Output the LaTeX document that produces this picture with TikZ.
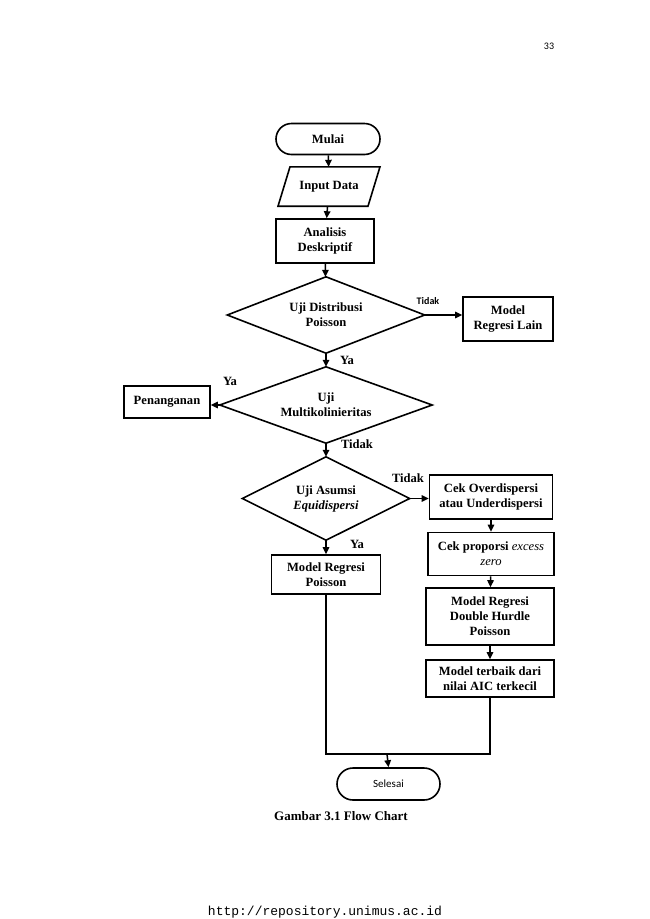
\documentclass[tikz,border=0pt]{standalone}
\usepackage{fontspec}
\setmainfont{Liberation Serif}
\newfontfamily\carl{Carlito}
\newfontfamily\lmono{Liberation Mono}
\usetikzlibrary{shapes.misc,arrows.meta}
\begin{document}
\begin{tikzpicture}[x=1pt,y=-1pt,
  every node/.style={font=\fontsize{12.6}{15}\selectfont\bfseries},
  box/.style={draw,line width=1.6pt,align=center,inner sep=0pt},
  term/.style={draw,line width=1.6pt,rounded rectangle,inner sep=0pt},
  dia/.style={inner sep=0pt,align=center},
  diaedge/.style={draw,line width=1.6pt},
  arr/.style={line width=1.5pt,-{Triangle[length=7pt,width=6.5pt]}},
  ln/.style={line width=1.5pt},
  lab/.style={inner sep=0pt}]
\useasboundingbox (0,0) rectangle (650,919);
\fill[white] (0,0) rectangle (650,919);
\node[lab,font=\carl\fontsize{10}{12}\selectfont] (pg) at (549,46) {33};
\node[term,minimum width=104,minimum height=31] (mulai) at (328,139) {Mulai};
\node[lab,minimum width=102,minimum height=39] (input) at (329,186.5) {Input Data};
\draw[diaedge] ([xshift=-39]input.north) -- ([xshift=51]input.north) -- ([xshift=39]input.south) -- ([xshift=-51]input.south) -- cycle;
\node[box,minimum width=98,minimum height=44] (ana) at (325,241) {Analisis\\Deskriptif};
\node[dia,minimum width=197,minimum height=76] (d1) at (326,315) {Uji Distribusi\\Poisson};
\draw[diaedge] (d1.north) -- (d1.east) -- (d1.south) -- (d1.west) -- cycle;
\node[box,minimum width=90,minimum height=44] (lain) at (508,319) {Model\\Regresi Lain};
\node[dia,minimum width=212,minimum height=76] (d2) at (326,405) {Uji\\Multikolinieritas};
\draw[diaedge] (d2.north) -- (d2.east) -- (d2.south) -- (d2.west) -- cycle;
\node[box,minimum width=86,minimum height=32] (pen) at (167,402) {Penanganan};
\node[dia,minimum width=167,minimum height=83] (d3) at (326,498.5) {Uji Asumsi\\\textit{Equidispersi}};
\draw[diaedge] (d3.north) -- (d3.east) -- (d3.south) -- (d3.west) -- cycle;
\node[box,minimum width=123,minimum height=44] (cek) at (491,497) {Cek Overdispersi\\atau Underdispersi};
\node[box,minimum width=109,minimum height=39] (poi) at (326,574.5) {Model Regresi\\Poisson};
\node[box,minimum width=126,minimum height=43] (prop) at (491,554) {Cek proporsi \textit{\mdseries excess}\\\textit{\mdseries zero}};
\node[box,minimum width=128,minimum height=57] (dh) at (490,616.5) {Model Regresi\\Double Hurdle\\Poisson};
\node[box,minimum width=128,minimum height=37] (best) at (490,678.5) {Model terbaik dari\\nilai AIC terkecil};
\node[term,minimum width=103,minimum height=32,font=\carl\fontsize{11}{13}\selectfont] (sel) at (388.5,784) {Selesai};
\coordinate (join) at (387,754);
\draw[arr] (mulai) -- (input);
\draw[arr] (input) -- (ana);
\draw[arr] (ana) -- (d1);
\draw[arr] (d1.east) -- (d1.east -| lain.west);
\draw[arr] (d1.south) -- (d2.north);
\draw[arr] (d2.west) -- (d2.west -| pen.east);
\draw[arr] (d2.south) -- (d3.north);
\draw[arr] (d3.east) -- (d3.east -| cek.west);
\draw[arr] (d3.south) -- (poi.north);
\draw[arr] (cek) -- (prop);
\draw[arr] (prop) -- (dh);
\draw[arr] (dh) -- (best);
\draw[ln] (poi.south) |- (join);
\draw[ln] (best.south) |- (join);
\draw[arr] (join) -- (sel.north);
\node[lab,font=\carl\bfseries\fontsize{10}{12}\selectfont] (t1) at (428,301) {Tidak};
\node[lab] (y1) at (347,360) {Ya};
\node[lab] (y2) at (230,381) {Ya};
\node[lab] (t2) at (357,444) {Tidak};
\node[lab] (t3) at (408,478) {Tidak};
\node[lab] (y3) at (357,544) {Ya};
\node[lab,font=\fontsize{13}{15}\selectfont\bfseries] (cap) at (341,816) {Gambar 3.1 Flow Chart};
\node[lab,font=\lmono\fontsize{13}{15}\selectfont] (url) at (325,912) {http://repository.unimus.ac.id};
\end{tikzpicture}
\end{document}
